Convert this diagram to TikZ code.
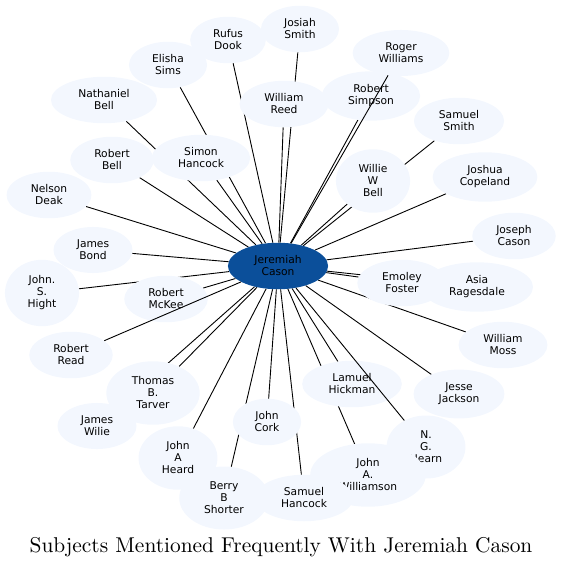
\documentclass[tikz,border=0pt]{standalone}
\usepackage{fontspec}
\newfontfamily\labelfont{DejaVu Sans}
\usetikzlibrary{shapes.geometric}
\pgfdeclarelayer{background}
\pgfsetlayers{background,main}
\definecolor{nodefill}{HTML}{F3F7FE}
\definecolor{hubfill}{HTML}{0B4F9A}

\begin{document}
\begin{tikzpicture}[x=1pt,y=-1pt]
\tikzset{vertex/.style = {shape=ellipse,fill=nodefill,align=center,inner xsep=11.8pt,inner ysep=6.3pt,font=\labelfont\fontsize{10.7}{12}\selectfont}}
\tikzset{hub/.style = {vertex,fill=hubfill}}
\tikzset{edge/.style = {-,line width=0.9pt}}
\useasboundingbox (0,0) rectangle (562,569);

\node[hub] (c) at (278,266) {Jeremiah\\Cason};

\node[vertex] (josiah) at (300,29) {Josiah\\Smith};
\node[vertex] (rufus) at (228,40) {Rufus\\Dook};
\node[vertex] (roger) at (401,53) {Roger\\Williams};
\node[vertex] (elisha) at (168,65) {Elisha\\Sims};
\node[vertex] (simpson) at (371,96) {Robert\\Simpson};
\node[vertex] (nathaniel) at (104,100) {Nathaniel\\Bell};
\node[vertex] (reed) at (284,104) {William\\Reed};
\node[vertex] (samsmith) at (459,121) {Samuel\\Smith};
\node[vertex] (simon) at (201,158) {Simon\\Hancock};
\node[vertex] (rbell) at (112,160) {Robert\\Bell};
\node[vertex] (copeland) at (485,177) {Joshua\\Copeland};
\node[vertex] (willie) at (373,181) {Willie\\W\\Bell};
\node[vertex] (deak) at (49,195) {Nelson\\Deak};
\node[vertex] (joseph) at (514,236) {Joseph\\Cason};
\node[vertex] (bond) at (93,250) {James\\Bond};
\node[vertex] (foster) at (402,283) {Emoley\\Foster};
\node[vertex] (asia) at (477,287) {Asia\\Ragesdale};
\node[vertex] (hight) at (42,293) {John.\\S.\\Hight};
\node[vertex] (mckee) at (166,299) {Robert\\McKee};
\node[vertex] (moss) at (503,345) {William\\Moss};
\node[vertex] (read) at (71,355) {Robert\\Read};
\node[vertex] (hickman) at (352,384) {Lamuel\\Hickman};
\node[vertex] (tarver) at (153,393) {Thomas\\B.\\Tarver};
\node[vertex] (jackson) at (459,394) {Jesse\\Jackson};
\node[vertex] (cork) at (267,422) {John\\Cork};
\node[vertex] (wilie) at (97,426) {James\\Wilie};
\node[vertex] (hearn) at (426,447) {N.\\G.\\Hearn};
\node[vertex] (heard) at (178,458) {John\\A\\Heard};
\node[vertex] (williamson) at (368,475) {John\\A.\\Williamson};
\node[vertex] (shorter) at (224,498) {Berry\\B\\Shorter};
\node[vertex] (shancock) at (304,498) {Samuel\\Hancock};

\node (title) at (281,547) {\scalebox{2.14}{Subjects Mentioned Frequently With Jeremiah Cason}};

%edges under the nodes
\begin{pgfonlayer}{background}
\draw[edge] (c) to (josiah);
\draw[edge] (c) to (rufus);
\draw[edge] (c) to (elisha);
\draw[edge] (c) to (simpson);
\draw[edge] (c) to (nathaniel);
\draw[edge] (c) to (reed);
\draw[edge] (c) to (samsmith);
\draw[edge] (c) to (simon);
\draw[edge] (c) to (rbell);
\draw[edge] (c) to (copeland);
\draw[edge] (c) to (willie);
\draw[edge] (c) to (deak);
\draw[edge] (c) to (joseph);
\draw[edge] (c) to (bond);
\draw[edge] (c) to (foster);
\draw[edge] (c) to (asia);
\draw[edge] (c) to (hight);
\draw[edge] (c) to (mckee);
\draw[edge] (c) to (moss);
\draw[edge] (c) to (hickman);
\draw[edge] (c) to (tarver);
\draw[edge] (c) to (jackson);
\draw[edge] (c) to (cork);
\draw[edge] (c) to (wilie);
\draw[edge] (c) to (heard);
\draw[edge] (c) to (williamson);
\draw[edge] (c) to (shorter);
\draw[edge] (c) to (shancock);
\end{pgfonlayer}

%edges over the nodes
\draw[edge] (c) to (roger);
\draw[edge] (c) to (read);
\draw[edge] (c) to (hearn);
\end{tikzpicture}
\end{document}
